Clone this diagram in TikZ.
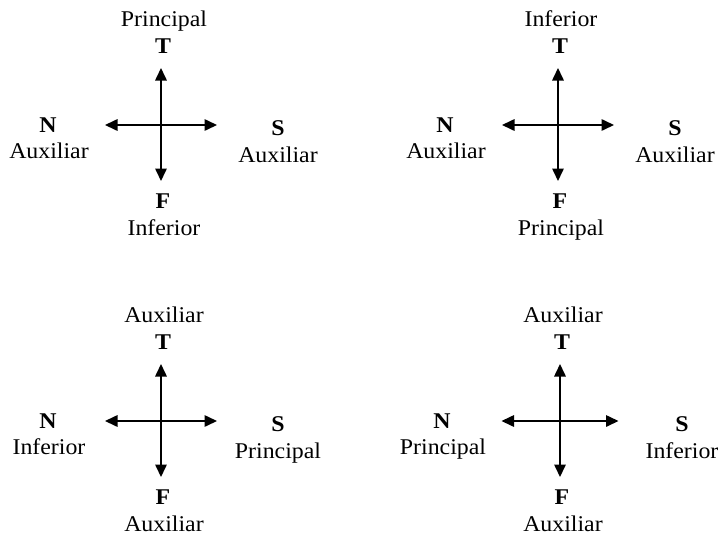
\documentclass[tikz,border=0pt]{standalone}
\usepackage{fontspec}
\setmainfont[FakeStretch=1.06]{Liberation Serif}
\usetikzlibrary{arrows.meta}
\tikzset{
  lbl/.style={anchor=base, inner sep=0pt, font=\fontsize{22.5}{26}\selectfont},
  dir/.style={lbl, font=\fontsize{22.5}{26}\selectfont\bfseries},
  axis/.style={line width=1.6pt, {Triangle[length=12.5pt,width=11.5pt]}-{Triangle[length=12.5pt,width=11.5pt]}}
}
\newcommand\compassfig[8]{%
  % #1 prefix, #2 cx, #3 cy, #4 top, #5 left, #6 right, #7 bottom, #8 extra spread
  \coordinate (#1c) at (#2,#3);
  \coordinate (#1up) at (#2,#3-57);
  \coordinate (#1dn) at (#2,#3+56);
  \coordinate (#1lf) at (#2-56-#8/2,#3);
  \coordinate (#1rt) at (#2+56+#8/2,#3);
  \draw[axis] (#1up) -- (#1dn);
  \draw[axis] (#1lf) -- (#1rt);
  \node[lbl] (#1tl) at (#2+3,#3-99) {#4};
  \node[dir] (#1T) at (#2+2,#3-72) {T};
  \node[dir] (#1N) at (#2-113-#8,#3+7) {N};
  \node[lbl] (#1nl) at (#2-112-#8,#3+33) {#5};
  \node[dir] (#1S) at (#2+117+#8,#3+10) {S};
  \node[lbl] (#1sl) at (#2+117+#8,#3+37) {#6};
  \node[dir] (#1F) at (#2+2,#3+83) {F};
  \node[lbl] (#1bl) at (#2+3,#3+110) {#7};
}
\begin{document}
\begin{tikzpicture}[x=1pt,y=-1pt]
\useasboundingbox (0,0) rectangle (720,536);
\compassfig{a}{161}{125}{Principal}{Auxiliar}{Auxiliar}{Inferior}{0}
\compassfig{b}{558}{125}{Inferior}{Auxiliar}{Auxiliar}{Principal}{0}
\compassfig{c}{161}{421}{Auxiliar}{Inferior}{Principal}{Auxiliar}{0}
\compassfig{d}{560}{421}{Auxiliar}{Principal}{Inferior}{Auxiliar}{5}
\end{tikzpicture}
\end{document}
